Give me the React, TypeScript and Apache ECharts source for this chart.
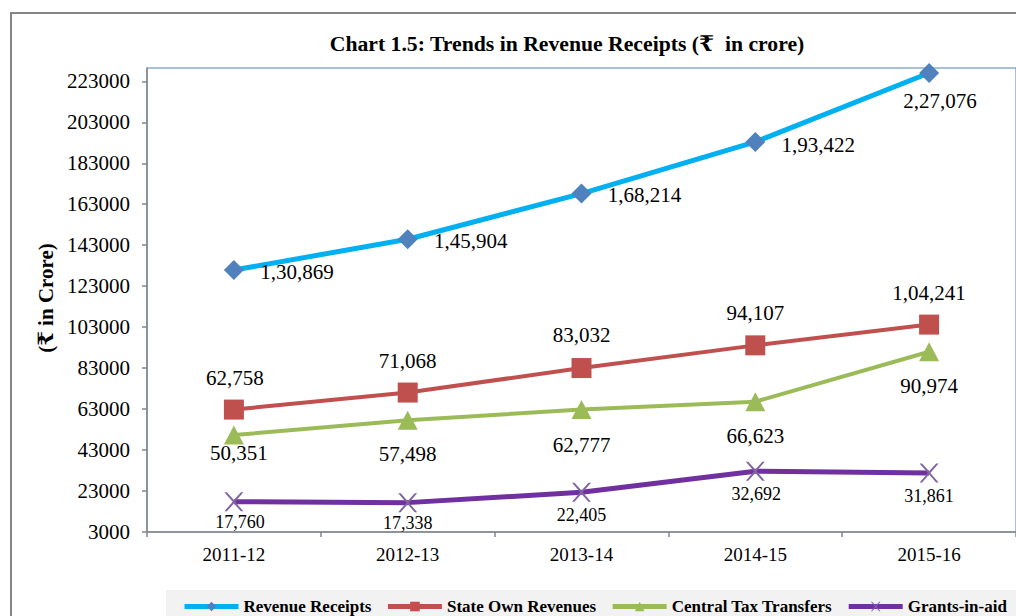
import React, { useEffect, useRef } from "react";
import * as echarts from "echarts";

const categories = ["2011-12", "2012-13", "2013-14", "2014-15", "2015-16"];
const revenueReceipts = [130869, 145904, 168214, 193422, 227076];
const stateOwnRevenues = [62758, 71068, 83032, 94107, 104241];
const centralTaxTransfers = [50351, 57498, 62777, 66623, 90974];
const grantsInAid = [17760, 17338, 22405, 32692, 31861];
const yTicks = [3000, 23000, 43000, 63000, 83000, 103000, 123000, 143000, 163000, 183000, 203000, 223000];
const seriesNames = ["Revenue Receipts", "State Own Revenues", "Central Tax Transfers", "Grants-in-aid"];

const FONT = '"Liberation Serif", "Times New Roman", "DejaVu Serif", "Noto Sans", serif';

function inr(n: number): string {
  const s = String(Math.round(n));
  if (s.length <= 3) return s;
  const last3 = s.slice(-3);
  let rest = s.slice(0, -3);
  const parts: string[] = [];
  while (rest.length > 2) {
    parts.unshift(rest.slice(-2));
    rest = rest.slice(0, -2);
  }
  if (rest) parts.unshift(rest);
  return parts.join(",") + "," + last3;
}

const X_SYMBOL =
  "path://M0,0 L2.6,0 L10,8.2 L17.4,0 L20,0 L11.3,10 L20,20 L17.4,20 L10,11.8 L2.6,20 L0,20 L8.7,10 Z";

export default function App() {
  const ref = useRef<HTMLDivElement>(null);

  useEffect(() => {
    if (!ref.current) return;
    const chart = echarts.init(ref.current, null, { renderer: "svg" });

    const rrOffsets = [[63, 2], [63, 2], [63, 1], [63, 3], [11, 28]];
    const sorOffsets = [[1, -32], [0, -32], [0, -33], [0, -32], [0, -32]];
    const cttOffsets = [[5, 18], [0, 34], [0, 35], [0, 34], [0, 34]];
    const giaOffsets = [[6, 20], [0, 20], [0, 23], [1, 23], [0, 23]];

    const mk = (
      name: string,
      values: number[],
      lineColor: string,
      width: number,
      symbol: string,
      symbolSize: any,
      symColor: string,
      offsets: number[][],
      fontSize: number
    ) => ({
      type: "line",
      name,
      data: values.map((v, i) => ({ value: v, label: { offset: offsets[i] } })),
      lineStyle: { color: lineColor, width },
      itemStyle: { color: symColor },
      symbol,
      symbolSize,
      showAllSymbol: true,
      emphasis: { disabled: true },
      label: {
        show: true,
        position: "inside",
        formatter: (p: any) => inr(p.value),
        fontFamily: FONT,
        fontSize,
        color: "#000",
      },
    });

    chart.setOption({
      animation: false,
      backgroundColor: "#ffffff",
      graphic: [
        {
          type: "rect",
          silent: true,
          z: -10,
          shape: { x: 11, y: 13, width: 1100, height: 700 },
          style: { fill: "none", stroke: "#868686", lineWidth: 2 },
        },
        {
          type: "text",
          x: 567,
          y: 44,
          style: {
            text: "Chart 1.5: Trends in Revenue Receipts (₹  in crore)",
            font: `bold 21.7px ${FONT}`,
            fill: "#000",
            textAlign: "center",
            textVerticalAlign: "middle",
          },
        },
        {
          type: "text",
          x: 46,
          y: 298,
          rotation: Math.PI / 2,
          style: {
            text: "(₹ in Crore)",
            font: `bold 21px ${FONT}`,
            fill: "#000",
            textAlign: "center",
            textVerticalAlign: "middle",
          },
        },
      ],
      grid: {
        left: 147,
        top: 68,
        width: 880,
        height: 464,
        show: true,
        borderColor: "#4f81bd",
        borderWidth: 1,
        backgroundColor: "transparent",
      },
      legend: {
        data: seriesNames,
        left: 166,
        top: 590,
        width: 900,
        padding: [8, 10, 20, 16],
        backgroundColor: "#f2f2f2",
        itemWidth: 54,
        itemHeight: 12,
        itemGap: 14,
        lineStyle: { width: 5 },
        textStyle: { fontFamily: FONT, fontSize: 17, fontWeight: "bold", color: "#000" },
      },
      xAxis: {
        type: "category",
        data: categories,
        boundaryGap: true,
        axisLine: { lineStyle: { color: "#868686", width: 1.5 } },
        axisTick: { show: true, length: 5, lineStyle: { color: "#868686", width: 1.5 } },
        axisLabel: { fontFamily: FONT, fontSize: 19, color: "#000", margin: 13 },
        splitLine: { show: false },
      },
      yAxis: {
        type: "value",
        min: 3000,
        max: 229500,
        axisLine: { show: true, lineStyle: { color: "#868686", width: 1.5 } },
        axisTick: { show: true, length: 5, customValues: yTicks, lineStyle: { color: "#868686", width: 1.5 } },
        axisLabel: {
          fontFamily: FONT,
          fontSize: 21,
          color: "#000",
          margin: 17,
          customValues: yTicks,
          formatter: (v: number) => String(v),
        },
        splitLine: { show: false },
      },
      series: [
        mk(seriesNames[0], revenueReceipts, "#00b0f0", 5, "diamond", 20, "#4f81bd", rrOffsets, 21),
        mk(seriesNames[1], stateOwnRevenues, "#c0504d", 4, "rect", 20, "#c0504d", sorOffsets, 21),
        mk(seriesNames[2], centralTaxTransfers, "#9bbb59", 4, "triangle", [20, 19], "#9bbb59", cttOffsets, 21),
        mk(seriesNames[3], grantsInAid, "#7030a0", 5, X_SYMBOL, 19, "#8064a2", giaOffsets, 18),
      ],
    });

    return () => chart.dispose();
  }, []);

  return (
    <div
      ref={ref}
      style={{ position: "absolute", left: 0, top: 0, width: 1016, height: 616, background: "#fff" }}
    />
  );
}
